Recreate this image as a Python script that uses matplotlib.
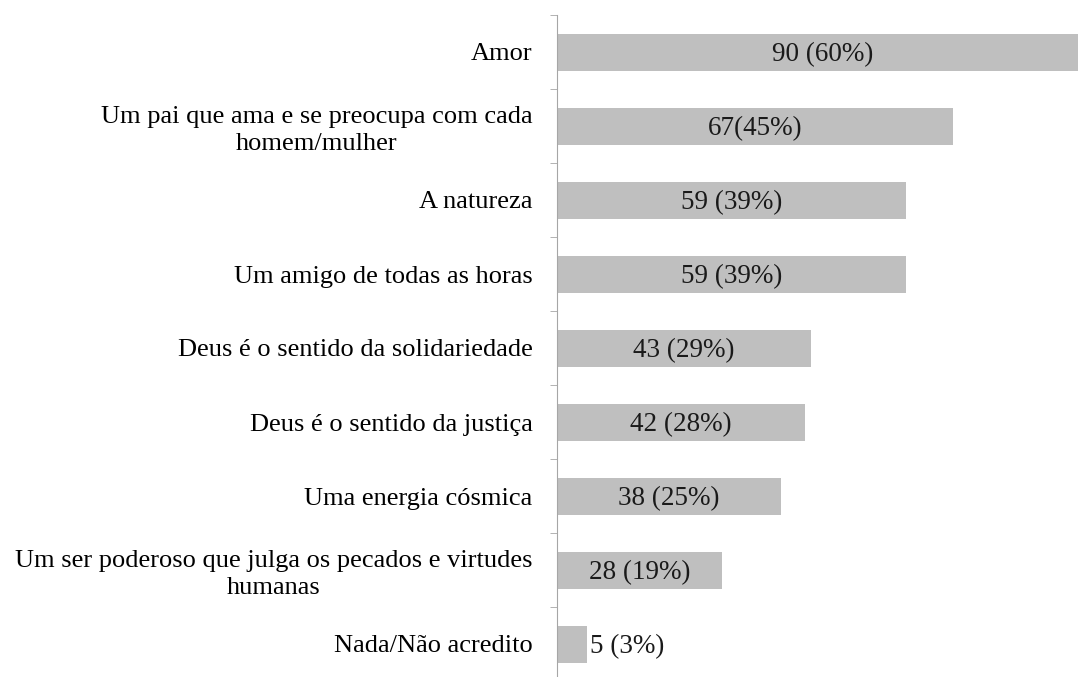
import matplotlib.pyplot as plt
import numpy as np

# Data
categories = ["Amor",
              "Um pai que ama e se preocupa com cada\nhomem/mulher",
              "A natureza",
              "Um amigo de todas as horas",
              "Deus é o sentido da solidariedade",
              "Deus é o sentido da justiça",
              "Uma energia cósmica",
              "Um ser poderoso que julga os pecados e virtudes\nhumanas",
              "Nada/Não acredito"]
counts = [90, 67, 59, 59, 43, 42, 38, 28, 5]
value_labels = ["90 (60%)", "67(45%)", "59 (39%)", "59 (39%)", "43 (29%)",
                "42 (28%)", "38 (25%)", "28 (19%)", "5 (3%)"]

plt.rcParams['font.family'] = ['Liberation Serif', 'DejaVu Serif']

fig = plt.figure(figsize=(10.78, 6.77), dpi=100)
ax = fig.add_axes([557 / 1078, -4 / 677, 521 / 1078, 666 / 677])

y = np.arange(len(categories))
ax.barh(y, counts, height=0.5, color="#BFBFBF")
ax.set_xlim(0, 88.2)
ax.set_ylim(len(categories) - 0.5, -0.5)

# Value labels: inside the bar, centred, unless the bar is too short
for i, (c, lab) in enumerate(zip(counts, value_labels)):
    if c < 10:
        ax.text(c + 0.6, i + 0.04, lab, va="center", ha="left", fontsize=19.5, color="#1a1a1a")
    else:
        ax.text(c / 2, i + 0.04, lab, va="center", ha="center", fontsize=19.5, color="#1a1a1a")

# Axis styling
for s in ["top", "right", "bottom"]:
    ax.spines[s].set_visible(False)
ax.spines["left"].set_color("#A6A6A6")
ax.xaxis.set_visible(False)

ax.set_yticks(y)
ax.set_yticklabels(categories, fontsize=19, multialignment="center", linespacing=1.25)
ax.tick_params(axis="y", which="major", length=0, pad=17.5)
ax.set_yticks(np.arange(-0.5, len(categories) + 0.5), minor=True)
ax.tick_params(axis="y", which="minor", length=5, color="#A6A6A6")

fig.savefig("out.png", dpi=100)
